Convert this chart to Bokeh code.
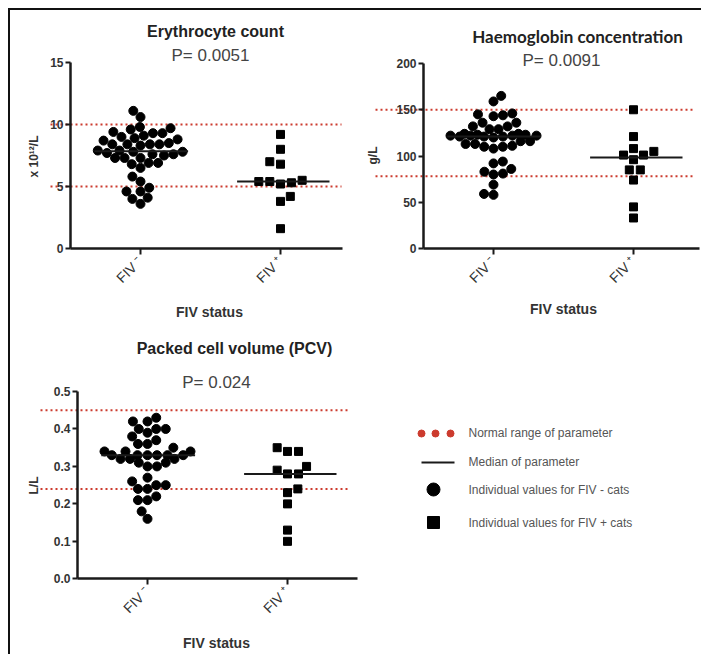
import numpy as np
from math import pi, sqrt
from bokeh.plotting import figure
from bokeh.models import Range1d, LinearAxis, FixedTicker, Label, ColumnDataSource, NumeralTickFormatter
from bokeh.layouts import column, row
from bokeh.embed import file_html
from bokeh.resources import INLINE

# ---------------- data ----------------
categories = ["FIV \u207b", "FIV \u207a"]
x_title = "FIV status"

ery_neg = [11.1, 10.6, 9.8, 9.7, 9.6, 9.4, 9.3, 9.3, 9.1, 9.0, 8.9, 8.8, 8.7, 8.5, 8.4, 8.4, 8.4,
           8.3, 8.4, 7.9, 7.9, 7.8, 7.7, 7.6, 7.6, 7.8, 7.5, 7.3, 7.3, 7.3, 6.9, 6.9, 6.8, 6.5,
           5.8, 5.4, 4.9, 4.6, 4.6, 4.1, 4.0, 3.6]
ery_pos = [9.2, 8.0, 7.0, 6.8, 5.5, 5.4, 5.2, 5.3, 5.4, 4.2, 3.8, 1.6]
ery_normal = [5, 10]
ery_ticks = [0, 5, 10, 15]

hb_neg = [165, 159, 146, 144, 136, 136, 143, 145, 132, 129, 129, 132, 124, 123, 122, 122, 121,
          121, 120, 121, 122, 122, 123, 124, 116, 113, 111, 110, 108, 110, 113, 116, 92, 94, 86,
          81, 80, 83, 69, 58, 59]
hb_pos = [150, 121, 108, 101, 96, 101, 105, 85, 85, 74, 45, 33]
hb_normal = [78, 150]
hb_ticks = [0, 50, 100, 150, 200]

pcv_neg = [0.43, 0.42, 0.42, 0.40, 0.40, 0.39, 0.38, 0.40, 0.37, 0.36, 0.35, 0.36, 0.34, 0.34,
           0.34, 0.33, 0.33, 0.33, 0.33, 0.32, 0.32, 0.33, 0.33, 0.32, 0.31, 0.30, 0.30, 0.31,
           0.27, 0.26, 0.25, 0.25, 0.24, 0.24, 0.21, 0.21, 0.22, 0.16, 0.18]
pcv_pos = [0.35, 0.34, 0.34, 0.30, 0.28, 0.28, 0.29, 0.24, 0.23, 0.20, 0.13, 0.10]
pcv_normal = [0.24, 0.45]
pcv_ticks = [0.0, 0.1, 0.2, 0.3, 0.4, 0.5]

titles = ["Erythrocyte count", "Haemoglobin concentration", "Packed cell volume (PCV)"]
pvalues = ["P= 0.0051", "P= 0.0091", "P= 0.024"]
ylabels = ["x 10\u00b9\u00b2/L", "g/L", "L/L"]
legend_texts = ["Normal range of parameter", "Median of parameter",
                "Individual values for FIV - cats", "Individual values for FIV + cats"]

RED = "#cc3b2e"
INK = "#1a1a1a"
TXT = "#333333"
FONT = "Liberation Sans"
PX_X = 140.0  # pixels per category unit


def swarm_offsets(vals, px_per_y, d=9.5, maxw=43.0):
    """Beeswarm offsets (in category units) computed from the values, capped in width."""
    vals = np.asarray(vals, float)
    ys = vals * px_per_y
    order = np.argsort(vals)
    placed = []
    offs = np.zeros(len(vals))
    grid = np.linspace(-maxw, maxw, 87)
    for n, i in enumerate(order):
        y = ys[i]
        cands = [0.0]
        for (xj, yj) in placed:
            dy = abs(y - yj)
            if dy < d:
                dx = sqrt(d * d - dy * dy)
                cands += [xj - dx, xj + dx]
        sgn = 1 if n % 2 else -1
        cands = [c for c in cands if abs(c) <= maxw + 1e-6]
        cands.sort(key=lambda c: (round(abs(c), 6), sgn * c))
        chosen = None
        for c in cands:
            if all((c - xj) ** 2 + (y - yj) ** 2 >= d * d - 1e-6 for xj, yj in placed):
                chosen = c
                break
        if chosen is None:
            best, bestd = 0.0, -1.0
            for c in sorted(grid, key=abs):
                md = min((c - xj) ** 2 + (y - yj) ** 2 for xj, yj in placed)
                if md > bestd + 1e-6:
                    best, bestd = c, md
            chosen = best
        placed.append((chosen, y))
        offs[i] = chosen / PX_X
    return offs


class Geo:
    def __init__(self, left, top, W, H, ax_px, zero_py, top_py, ymax):
        self.left, self.top, self.W, self.H = left, top, W, H
        self.ax_px, self.zero_py = ax_px, zero_py
        self.sy = (zero_py - top_py) / ymax

    def dx(self, px):
        return 0.5 + (px - self.ax_px) / PX_X

    def dy(self, py):
        return (self.zero_py - py) / self.sy


def make_panel(geo, neg, pos, normal, ticks, title, pval, ylab, title_pos, p_pos, ylab_pos,
               xlab_pos, line_x, axis_end, title_font=FONT, title_size="16px", fmt=None):
    p = figure(width=geo.W, height=geo.H,
               x_range=Range1d(geo.dx(geo.left), geo.dx(geo.left + geo.W)),
               y_range=Range1d(geo.dy(geo.top + geo.H), geo.dy(geo.top)),
               output_backend="svg", toolbar_location=None,
               x_axis_location=None, y_axis_location=None, min_border=0)
    p.outline_line_color = None
    p.background_fill_color = "white"
    p.border_fill_color = "white"
    p.xgrid.visible = False
    p.ygrid.visible = False

    # normal range lines
    p.segment(x0=[geo.dx(line_x[0])] * 2, x1=[geo.dx(line_x[1])] * 2, y0=normal, y1=normal,
              line_color=RED, line_width=2, line_dash="2 3")

    # axes
    ya = LinearAxis(fixed_location=0.5, bounds=(ticks[0], ticks[-1]),
                    ticker=FixedTicker(ticks=ticks))
    if fmt:
        ya.formatter = NumeralTickFormatter(format=fmt)
    ya.axis_line_width = 2.5
    ya.axis_line_color = INK
    ya.major_tick_line_width = 2
    ya.major_tick_line_color = INK
    ya.major_tick_out = 5
    ya.major_tick_in = 0
    ya.minor_tick_out = 0
    ya.minor_tick_in = 0
    ya.major_label_standoff = 2
    ya.major_label_text_font = FONT
    ya.major_label_text_font_style = "bold"
    ya.major_label_text_font_size = "12px"
    ya.major_label_text_color = TXT
    p.add_layout(ya, "left")

    xa = LinearAxis(fixed_location=0, bounds=(0.5, axis_end), ticker=FixedTicker(ticks=[1, 2]),
                    major_label_overrides={1: categories[0], 2: categories[1]},
                    major_label_orientation=pi / 4)
    xa.axis_line_width = 2.5
    xa.axis_line_color = INK
    xa.major_tick_line_width = 2
    xa.major_tick_line_color = INK
    xa.major_tick_out = 6
    xa.major_tick_in = 0
    xa.minor_tick_out = 0
    xa.minor_tick_in = 0
    xa.major_label_standoff = 4
    xa.major_label_text_font = FONT
    xa.major_label_text_font_size = "14px"
    xa.major_label_text_color = TXT
    p.add_layout(xa, "below")

    # points
    sn = ColumnDataSource(dict(x=1 + swarm_offsets(neg, geo.sy), y=neg))
    sp = ColumnDataSource(dict(x=2 + swarm_offsets(pos, geo.sy, d=11), y=pos))
    p.scatter("x", "y", source=sn, marker="circle", size=9, fill_color="black", line_color="black")
    p.scatter("x", "y", source=sp, marker="square", size=8, fill_color="black", line_color="black")

    # medians
    meds = [float(np.median(neg)), float(np.median(pos))]
    p.segment(x0=[1 - 0.33, 2 - 0.31], x1=[1 + 0.34, 2 + 0.35], y0=meds, y1=meds,
              line_color=INK, line_width=2)

    # texts
    p.add_layout(Label(x=geo.dx(title_pos[0]), y=geo.dy(title_pos[1]), text=title,
                       text_align="center", text_baseline="middle", text_font=title_font,
                       text_font_style="bold", text_font_size=title_size, text_color="#222222"))
    p.add_layout(Label(x=geo.dx(p_pos[0]), y=geo.dy(p_pos[1]), text=pval,
                       text_align="center", text_baseline="middle", text_font=FONT,
                       text_font_size="17px", text_color="#444444"))
    p.add_layout(Label(x=geo.dx(ylab_pos[0]), y=geo.dy(ylab_pos[1]), text=ylab, angle=pi / 2,
                       text_align="center", text_baseline="middle", text_font=FONT,
                       text_font_style="bold", text_font_size="12px", text_color=TXT))
    p.add_layout(Label(x=geo.dx(xlab_pos[0]), y=geo.dy(xlab_pos[1]), text=x_title,
                       text_align="center", text_baseline="middle", text_font=FONT,
                       text_font_style="bold", text_font_size="14px", text_color=TXT))
    return p


g1 = Geo(10, 10, 342, 314, 70, 248, 62, 15)
p1 = make_panel(g1, ery_neg, ery_pos, ery_normal, ery_ticks, titles[0], pvalues[0], ylabels[0],
                (215, 31), (210, 55), (33, 156), (209, 311), (50, 341), 2.44)

g2 = Geo(352, 10, 349, 314, 423, 248, 63, 200)
p2 = make_panel(g2, hb_neg, hb_pos, hb_normal, hb_ticks, titles[1], pvalues[1], ylabels[1],
                (577, 36), (561, 60), (372, 155), (563, 308), (375, 693), 2.47,
                title_font="Lato", title_size="17px")

g3 = Geo(10, 324, 362, 330, 77, 578.3, 391, 0.5)
p3 = make_panel(g3, pcv_neg, pcv_pos, pcv_normal, pcv_ticks, titles[2], pvalues[2], ylabels[2],
                (234, 348), (216, 382), (33, 485), (216, 642), (40, 350), 2.5, fmt="0.0")

# legend panel (coordinates in page pixels)
pl = figure(width=329, height=330, x_range=Range1d(372, 701), y_range=Range1d(654, 324),
            output_backend="svg", toolbar_location=None, x_axis_location=None,
            y_axis_location=None, min_border=0)
pl.outline_line_color = None
pl.xgrid.visible = False
pl.ygrid.visible = False
pl.scatter(x=[421, 435, 450], y=[433, 433, 433], marker="circle", size=7,
           fill_color=RED, line_color=RED)
pl.segment(x0=[421], x1=[454], y0=[462], y1=[462], line_color=INK, line_width=2)
pl.scatter(x=[433], y=[489], marker="circle", size=13, fill_color="black", line_color="black")
pl.scatter(x=[433], y=[522], marker="square", size=12, fill_color="black", line_color="black")
for t, yy in zip(legend_texts, [432, 461, 489, 522]):
    pl.add_layout(Label(x=468, y=yy, text=t, text_align="left", text_baseline="middle",
                        text_font=FONT, text_font_size="12px", text_color="#555555"))

layout = column(row(p1, p2), row(p3, pl), margin=(8, 0, 0, 8),
                styles={"border-top": "2px solid #111", "border-left": "2px solid #111"})

open("out.html", "w").write(file_html(layout, INLINE))
